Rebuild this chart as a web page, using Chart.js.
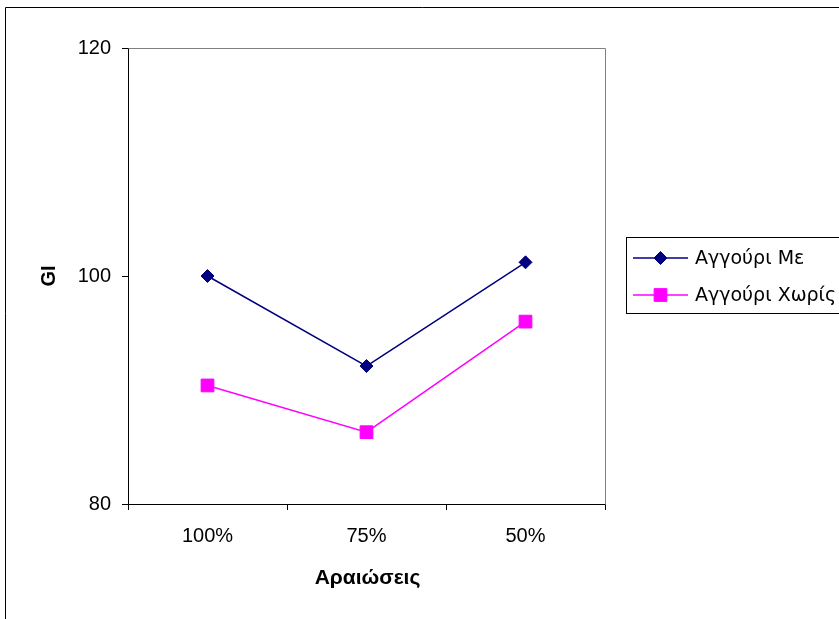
<!DOCTYPE html>
<html>
<head>
<meta charset="utf-8">
<script src="https://cdn.jsdelivr.net/npm/chart.js@4/dist/chart.umd.min.js"></script>
<style>
  html, body { margin: 0; padding: 0; background: #ffffff; }
  #wrap { width: 839px; height: 619px; position: relative; }
</style>
</head>
<body>
<div id="wrap"><canvas id="c" width="839" height="619"></canvas></div>
<script>
// Dilution levels and GI values for the two cucumber samples
const categories = ['100%', '75%', '50%'];
const giWithPeel = [100.0, 92.1, 101.2];
const giWithoutPeel = [90.4, 86.3, 96.0];
const seriesNames = ['Αγγούρι Με', 'Αγγούρι Χωρίς'];
const yTickValues = [80, 100, 120];
const xTitle = 'Αραιώσεις';
const yTitle = 'GI';

const FONT = '"Liberation Sans", Arial, sans-serif';
const LEGEND_FONT = '"DejaVu Sans", Verdana, sans-serif';

// Frame, plot outline, axis titles and legend box
const decor = {
  id: 'decor',
  beforeDatasetsDraw(chart) {
    const { ctx, chartArea: a } = chart;
    ctx.save();
    ctx.strokeStyle = '#808080';
    ctx.lineWidth = 1;
    ctx.beginPath();
    ctx.moveTo(Math.round(a.left) + 0.5, Math.round(a.top) + 0.5);
    ctx.lineTo(Math.round(a.right) + 0.5, Math.round(a.top) + 0.5);
    ctx.lineTo(Math.round(a.right) + 0.5, Math.round(a.bottom) + 0.5);
    ctx.stroke();
    ctx.restore();
  },
  afterDraw(chart) {
    const { ctx, chartArea: a } = chart;
    ctx.save();
    // outer frame
    ctx.strokeStyle = '#000';
    ctx.lineWidth = 1;
    ctx.beginPath();
    ctx.moveTo(5.5, 630);
    ctx.lineTo(5.5, 7.5);
    ctx.lineTo(850, 7.5);
    ctx.stroke();

    // axis titles
    ctx.fillStyle = '#000';
    ctx.font = 'bold 21px ' + FONT;
    ctx.textAlign = 'center';
    ctx.textBaseline = 'middle';
    ctx.fillText(xTitle, (a.left + a.right) / 2 + 1, 578);
    ctx.font = 'bold 20px ' + FONT;
    ctx.save();
    ctx.translate(49, (a.top + a.bottom) / 2);
    ctx.rotate(-Math.PI / 2);
    ctx.fillText(yTitle, 0, 0);
    ctx.restore();

    // legend
    ctx.strokeStyle = '#000';
    ctx.lineWidth = 1;
    ctx.strokeRect(626.5, 237.5, 240, 76);
    const rows = [258, 295];
    chart.data.datasets.forEach((ds, i) => {
      const y = rows[i];
      ctx.strokeStyle = ds.borderColor;
      ctx.lineWidth = ds.borderWidth;
      ctx.beginPath();
      ctx.moveTo(633, y);
      ctx.lineTo(688, y);
      ctx.stroke();
      ctx.fillStyle = ds.pointBackgroundColor;
      ctx.strokeStyle = ds.pointBorderColor;
      ctx.lineWidth = 1;
      Chart.helpers.drawPoint(ctx, { pointStyle: ds.pointStyle, radius: ds.pointRadius, rotation: 0, borderWidth: 1 }, 660.5, y);
      ctx.fillStyle = '#000';
      ctx.font = '19px ' + LEGEND_FONT;
      ctx.textAlign = 'left';
      ctx.textBaseline = 'middle';
      ctx.fillText(ds.label, 695, y + 1);
    });
    ctx.restore();
  }
};

new Chart(document.getElementById('c'), {
  type: 'line',
  data: {
    labels: categories,
    datasets: [
      {
        label: seriesNames[0],
        data: giWithPeel,
        borderColor: '#000080',
        backgroundColor: '#000080',
        borderWidth: 1.5,
        pointStyle: 'rectRot',
        pointRadius: 6.5,
        pointHoverRadius: 6.5,
        pointBackgroundColor: '#000080',
        pointBorderColor: '#000080',
        pointBorderWidth: 1,
        tension: 0
      },
      {
        label: seriesNames[1],
        data: giWithoutPeel,
        borderColor: '#FF00FF',
        backgroundColor: '#FF00FF',
        borderWidth: 1.5,
        pointStyle: 'rect',
        pointRadius: 9,
        pointHoverRadius: 9,
        pointBackgroundColor: '#FF00FF',
        pointBorderColor: '#FF00FF',
        pointBorderWidth: 1,
        tension: 0
      }
    ]
  },
  options: {
    responsive: false,
    devicePixelRatio: 1,
    animation: false,
    events: [],
    layout: { padding: { top: 48, right: 234, left: 0, bottom: 0 } },
    plugins: { legend: { display: false }, tooltip: { enabled: false } },
    scales: {
      x: {
        offset: true,
        afterFit(s) { s.height = 115; },
        grid: { offset: true, drawOnChartArea: false, drawTicks: true, tickLength: 6, color: '#000' },
        border: { color: '#000', width: 1 },
        ticks: { color: '#000', font: { family: FONT, size: 20 }, padding: 14, maxRotation: 0 }
      },
      y: {
        min: 80,
        max: 120,
        afterFit(s) { s.width = 128; },
        afterBuildTicks(s) { s.ticks = yTickValues.map(v => ({ value: v })); },
        grid: { drawOnChartArea: false, drawTicks: true, tickLength: 6, color: '#000' },
        border: { color: '#000', width: 1 },
        ticks: { color: '#000', font: { family: FONT, size: 20 }, padding: 11 }
      }
    }
  },
  plugins: [decor]
});
</script>
</body>
</html>
